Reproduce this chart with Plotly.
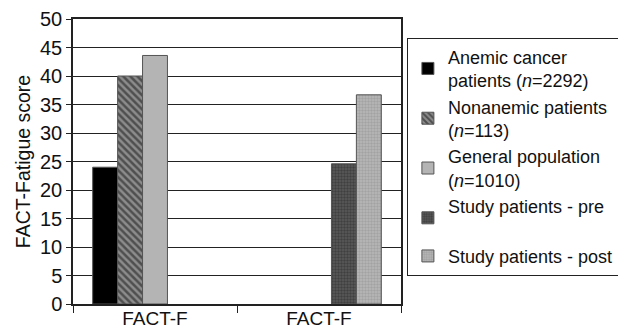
import plotly.graph_objects as go

# Two FACT-F comparison groups, five series (Excel-style clustered bars)
group_positions = [0, 1]
group_labels = ["FACT-F", "FACT-F"]

series_names = [
    "Anemic cancer<br>patients (<i>n</i>=2292)",
    "Nonanemic patients<br>(<i>n</i>=113)",
    "General population<br>(<i>n</i>=1010)",
    "Study patients - pre<br> ",
    "Study patients - post",
]
anemic = [24.0, None]
nonanemic = [40.0, None]
general = [43.6, None]
study_pre = [None, 24.6]
study_post = [None, 36.7]

y_ticks = list(range(0, 55, 5))

series_values = [anemic, nonanemic, general, study_pre, study_post]
styles = [
    dict(color="#000000", pattern=None),
    dict(color="#8c8c8c", pattern=dict(shape="\\", fgcolor="#111111", bgcolor="#8c8c8c",
                                        size=5, solidity=0.5)),
    dict(color="#b4b4b4", pattern=None),
    dict(color="#4a4a4a", pattern=dict(shape=".", fgcolor="#262626", bgcolor="#5a5a5a",
                                        size=3, solidity=0.5)),
    dict(color="#a9a9a9", pattern=dict(shape=".", fgcolor="#8c8c8c", bgcolor="#b8b8b8",
                                        size=3, solidity=0.5)),
]

fig = go.Figure()
for name, vals, st in zip(series_names, series_values, styles):
    marker = dict(color=st["color"], line=dict(color="#555555", width=1))
    if st["pattern"] is not None:
        marker["pattern"] = st["pattern"]
    fig.add_trace(go.Bar(x=group_positions, y=vals, name=name, marker=marker))

font_family = "Liberation Sans, Arial, sans-serif"

fig.update_layout(
    width=618,
    height=331,
    margin=dict(l=73, r=217, t=19, b=27, autoexpand=False),
    paper_bgcolor="white",
    plot_bgcolor="white",
    barmode="group",
    bargap=0.24,
    bargroupgap=0,
    font=dict(family=font_family, color="#111111", size=19),
    showlegend=True,
    legend=dict(
        x=1.018, xanchor="left",
        y=0.935, yanchor="top",
        bordercolor="#222222", borderwidth=1,
        bgcolor="white",
        font=dict(size=18, family=font_family, color="#111111"),
        traceorder="normal",
        tracegroupgap=0,
        itemwidth=30,
    ),
    xaxis=dict(
        range=[-0.5, 1.5],
        tickvals=group_positions,
        ticktext=group_labels,
        ticks="",
        ticklabelstandoff=-4,
        tickfont=dict(size=19),
        showgrid=False,
        zeroline=False,
        showline=True, linecolor="#222222", linewidth=1.5, mirror=True,
        minor=dict(tickvals=[-0.5, 0.5, 1.5], ticks="outside", ticklen=7,
                   tickcolor="#222222", tickwidth=1, showgrid=False),
    ),
    yaxis=dict(
        range=[0, 50],
        tickvals=y_ticks,
        ticks="outside", ticklen=5, tickcolor="#222222", tickwidth=1,
        tickfont=dict(size=20),
        showgrid=True, gridcolor="#222222", gridwidth=1.2,
        zeroline=False,
        showline=True, linecolor="#222222", linewidth=1.5, mirror=True,
        title=dict(text="FACT-Fatigue score", font=dict(size=19.5), standoff=4),
    ),
)

fig.write_html("out.html")
